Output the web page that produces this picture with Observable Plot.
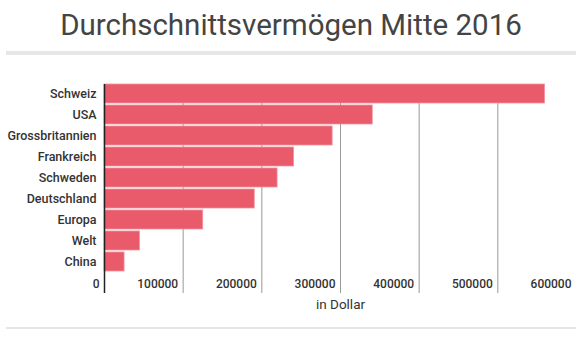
<!DOCTYPE html>
<html>
<head>
<meta charset="utf-8">
<script src="https://cdn.jsdelivr.net/npm/d3@7"></script>
<script src="https://cdn.jsdelivr.net/npm/@observablehq/plot@0.6"></script>
<style>
  html, body { margin: 0; padding: 0; background: #fff; }
  body { width: 582px; height: 338px; overflow: hidden; font-family: Roboto, "Open Sans", sans-serif; }
  #title { height: 51px; line-height: 50px; text-align: center; font-size: 29.5px; font-weight: 400; color: #444; letter-spacing: 0; }
  .rule-top { margin: 0 6px; height: 4px; background: #e6e6e6; }
  .rule-bottom { margin: 0 6px; height: 2px; background: #e6e6e6; }
  #chart svg { display: block; }
</style>
</head>
<body>
<div id="title">Durchschnittsvermögen Mitte 2016</div>
<div class="rule-top"></div>
<div id="chart"></div>
<div class="rule-bottom"></div>
<script>
const countries = ["Schweiz", "USA", "Grossbritannien", "Frankreich", "Schweden", "Deutschland", "Europa", "Welt", "China"];
const wealth = [560000, 341000, 290000, 241000, 220000, 191000, 125500, 45000, 25500];
const xTicks = [0, 100000, 200000, 300000, 400000, 500000, 600000];
const xLabel = "in Dollar";

const data = countries.map((c, i) => ({country: c, value: wealth[i]}));

const svgTop = 55;
const chart = Plot.plot({
  width: 582,
  height: 272,
  marginTop: 84 - svgTop,
  marginBottom: 272 - (293 - svgTop),
  marginLeft: 104,
  marginRight: 6,
  style: {fontFamily: "Roboto, sans-serif", fontSize: "12px", color: "#333", background: "#fff"},
  x: {domain: [0, 600000]},
  y: {domain: countries, paddingInner: 0.1, paddingOuter: 0.526, align: 0},
  marks: [
    Plot.gridX(xTicks.slice(1, -1), {stroke: "#999", strokeOpacity: 1, strokeWidth: 1}),
    Plot.barX(data, {x: "value", y: "country", fill: "#e95a6b", stroke: "#f1939e", strokeWidth: 0.8}),
    Plot.ruleX([0], {stroke: "#222", strokeWidth: 1.5}),
    Plot.axisY({tickSize: 0, tickPadding: 8, fontSize: 12.5, fontWeight: 500, fill: "#333", label: null}),
    Plot.axisX(xTicks, {tickSize: 0, tickPadding: 0, textAnchor: "end", dx: -5, dy: -14, fontWeight: 500, fill: "#333",
      tickFormat: d => String(d), label: null}),
    Plot.axisX([], {tickSize: 0, fill: "#333", fontSize: 13.5, fontWeight: 400, label: xLabel, labelAnchor: "center", labelArrow: "none", labelOffset: 15})
  ]
});
document.getElementById("chart").appendChild(chart);
</script>
</body>
</html>
